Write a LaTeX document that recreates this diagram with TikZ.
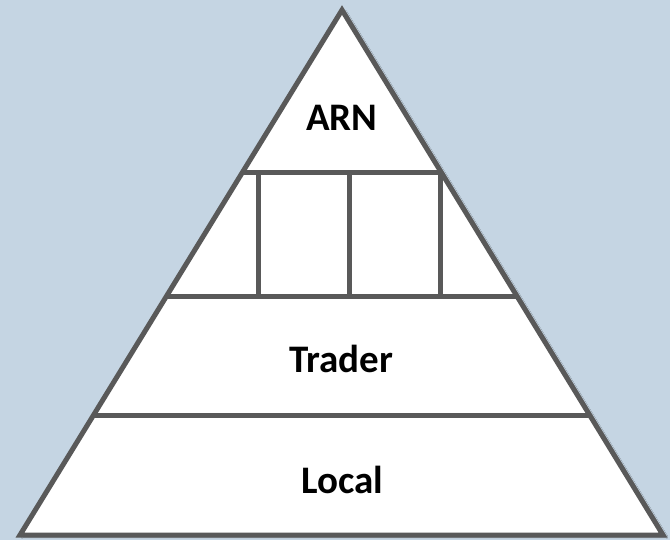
\documentclass[tikz,border=0pt]{standalone}
\usepackage{fontspec}
\setmainfont{Carlito}
\usetikzlibrary{calc,shadows.blur}
\definecolor{bgc}{RGB}{197,213,227}
\definecolor{edge}{RGB}{89,89,89}
\tikzset{
  tier/.style={draw=edge,line width=5pt},
  lbl/.style={font=\fontsize{39}{42}\selectfont\bfseries,text=black,inner sep=0pt,anchor=base}
}
\begin{document}
\begin{tikzpicture}[x=1pt,y=-1pt]
\fill[bgc] (0,0) rectangle (670,540);
\useasboundingbox (0,0) rectangle (670,540);
\coordinate (apex) at (342,10);
\coordinate (bl) at (20,535);
\coordinate (br) at (663,535);
\fill[white,blur shadow={shadow xshift=3pt,shadow yshift=-2pt,shadow blur steps=6,shadow opacity=35}] (apex) -- (br) -- (bl) -- cycle;
% tier lines
\coordinate (l1) at ($(apex)!0.3086!(bl)$);
\coordinate (r1) at ($(apex)!0.3086!(br)$);
\coordinate (l2) at ($(apex)!0.5448!(bl)$);
\coordinate (r2) at ($(apex)!0.5448!(br)$);
\coordinate (l3) at ($(apex)!0.7733!(bl)$);
\coordinate (r3) at ($(apex)!0.7733!(br)$);
\draw[tier] (l1) -- (r1);
\draw[tier] (l2) -- (r2);
\draw[tier] (l3) -- (r3);
\foreach \n/\x in {a/258,b/349,c/440}{
  \coordinate (\n t) at (\x,172);
  \coordinate (\n b) at (\x,296);
  \draw[tier] (\n t) -- (\n b);
}
\draw[tier,line join=miter] (apex) -- (br) -- (bl) -- cycle;
\node[lbl] (arn) at (342,131) {ARN};
\node[lbl] (trader) at (341,373) {Trader};
\node[lbl] (local) at (342,493) {Local};
\end{tikzpicture}
\end{document}
